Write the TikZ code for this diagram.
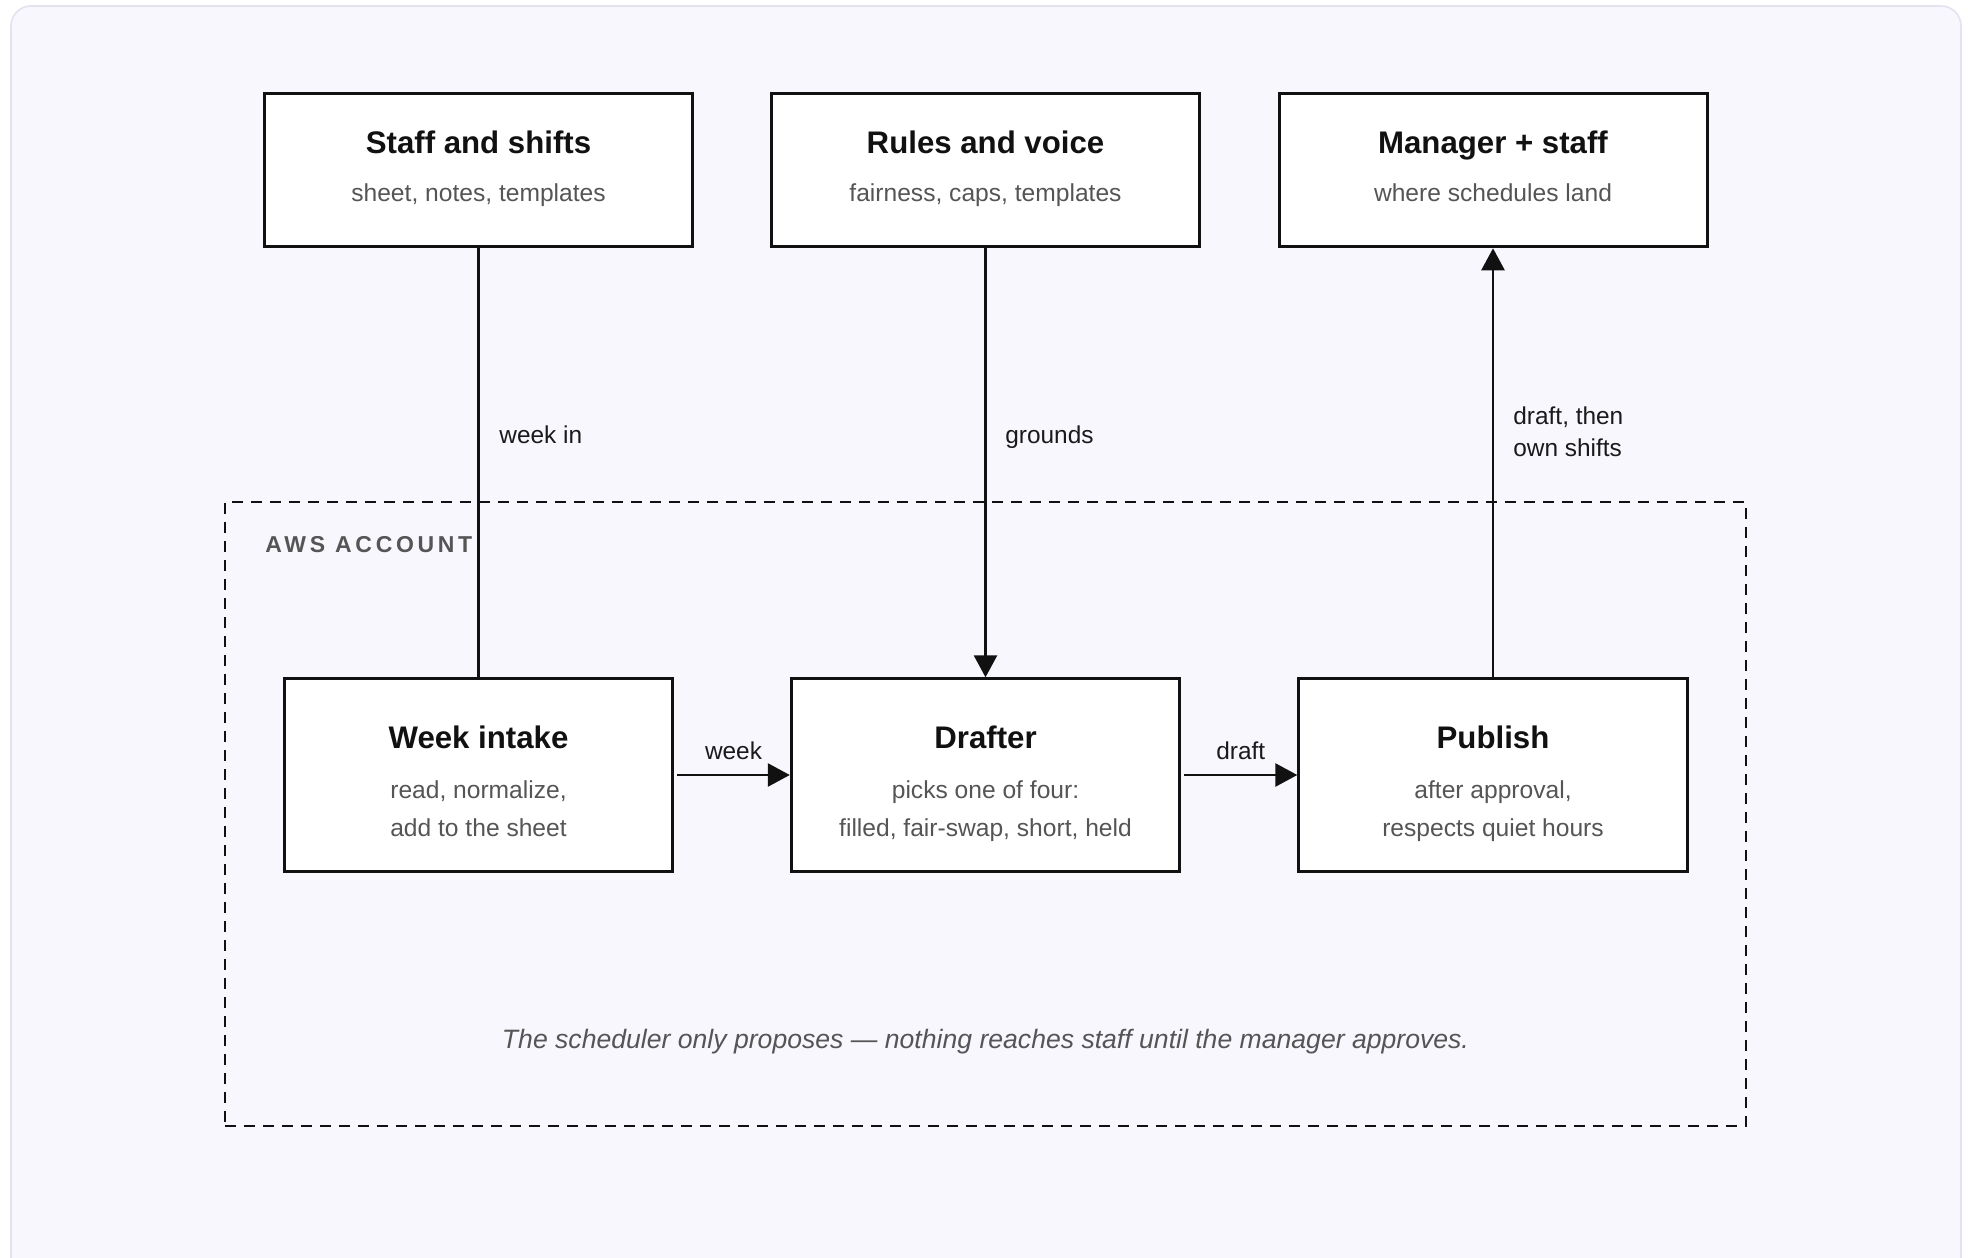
\documentclass[tikz,border=0pt]{standalone}
\usepackage{fontspec}
\setmainfont{Liberation Sans}
\newfontfamily\awsfont[LetterSpace=16]{Liberation Sans}
\usetikzlibrary{arrows.meta}
\definecolor{ink}{HTML}{111111}
\definecolor{subgray}{HTML}{555555}
\definecolor{labelink}{HTML}{1A1A1A}
\definecolor{panel}{HTML}{F8F7FE}
\definecolor{panelline}{HTML}{E4E2EE}
\tikzset{
  topbox/.style={draw=ink, fill=white, line width=1.5pt, minimum width=214pt, minimum height=76.8pt, inner sep=0pt},
  botbox/.style={draw=ink, fill=white, line width=1.5pt, minimum width=194.2pt, minimum height=96.2pt, inner sep=0pt},
  ttl/.style={font=\fontsize{15.6}{18}\selectfont\bfseries, text=ink, inner sep=0pt, anchor=base},
  sub/.style={font=\fontsize{12.3}{19.2}\selectfont, text=subgray, inner sep=0pt, align=center, anchor=base},
  elabel/.style={font=\fontsize{12.2}{16.2}\selectfont, text=labelink, inner sep=0pt, align=left},
  conn/.style={draw=ink, line width=1.35pt},
  arr/.style={conn, -{Triangle[length=11pt, width=11.5pt]}},
  awsbox/.style={draw=ink, line width=1.25pt, dash pattern=on 5.5pt off 4pt, minimum width=760.5pt, minimum height=312pt, inner sep=0pt}
}
\begin{document}
\begin{tikzpicture}[x=0.5pt,y=-0.5pt]
\useasboundingbox (0,0) rectangle (1968,1257);
\clip (0,0) rectangle (1968,1257);
\fill[white] (0,0) rectangle (1968,1257);
\draw[draw=panelline, fill=panel, line width=0.8pt, rounded corners=10pt] (11,6) rectangle (1961,1300);

% AWS account region
\node[awsbox] (aws) at (985.5,814) {};
\node[font=\fontsize{11.5}{13}\selectfont\awsfont\bfseries, text=subgray, inner sep=0pt, anchor=base west] (awslbl) at (265,552.7) {AWS ACCOUNT};

% top boxes
\node[topbox] (staff) at (478.5,170) {};
\node[topbox] (rules) at (985.5,170) {};
\node[topbox] (manager) at (1493,170) {};
\node[ttl] (staffT) at (478.5,154) {Staff and shifts};
\node[sub] (staffS) at (478.5,202) {sheet, notes, templates};
\node[ttl] (rulesT) at (985.5,154) {Rules and voice};
\node[sub] (rulesS) at (985.5,202) {fairness, caps, templates};
\node[ttl] (managerT) at (1493,154) {Manager + staff};
\node[sub] (managerS) at (1493,202) {where schedules land};

% bottom boxes
\node[botbox] (week) at (478.5,775) {};
\node[botbox] (drafter) at (985.5,775) {};
\node[botbox] (publish) at (1493,775) {};
\node[ttl] (weekT) at (478.5,748.3) {Week intake};
\node[sub] (weekS) at (478.5,836.7) {read, normalize,\\add to the sheet};
\node[ttl] (drafterT) at (985.5,748.3) {Drafter};
\node[sub] (drafterS) at (985.5,836.7) {picks one of four:\\filled, fair-swap, short, held};
\node[ttl] (publishT) at (1493,748.3) {Publish};
\node[sub] (publishS) at (1493,836.7) {after approval,\\respects quiet hours};

% connectors
\draw[conn] (staff.south) -- (week.north);
\draw[arr] (rules.south) -- (drafter.north);
\draw[arr] (publish.north) -- (manager.south);
\draw[arr] ([xshift=1.5pt]week.east) -- (drafter.west)
  node[midway, elabel, anchor=base, yshift=8pt] (lweek) {week};
\draw[arr] ([xshift=1.5pt]drafter.east) -- (publish.west)
  node[midway, elabel, anchor=base, yshift=8pt] (ldraft) {draft};

\node[elabel, anchor=base west] (lweekin) at (499,443.3) {week in};
\node[elabel, anchor=base west] (lgrounds) at (1005,443.3) {grounds};
\node[elabel, anchor=base west] (lpub) at (1513,456.7) {draft, then\\own shifts};

% caption
\node[font=\fontsize{13.3}{16}\selectfont\itshape, text=subgray, inner sep=0pt, anchor=base] (caption) at (985.5,1048) {The scheduler only proposes — nothing reaches staff until the manager approves.};
\end{tikzpicture}
\end{document}
